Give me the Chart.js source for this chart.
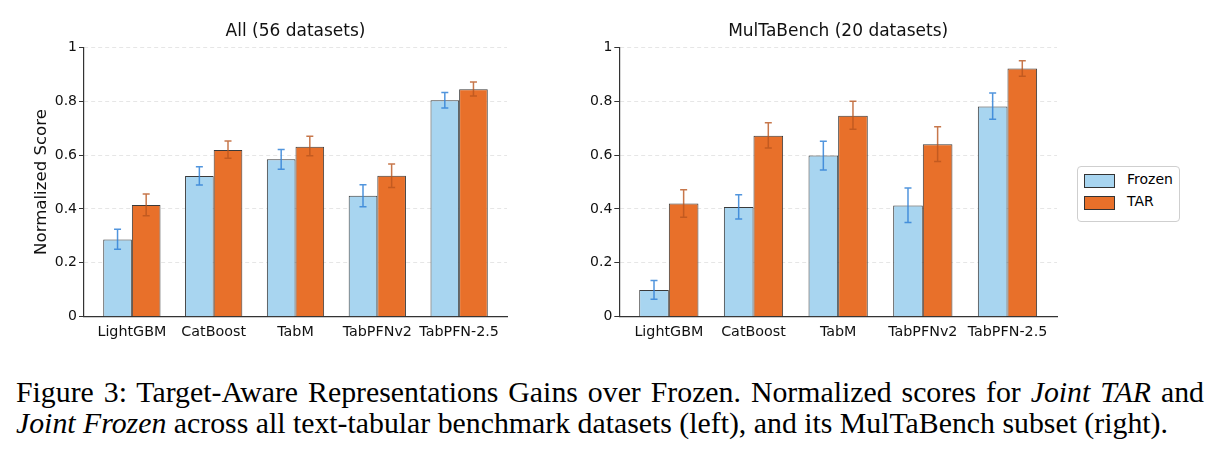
<!DOCTYPE html>
<html>
<head>
<meta charset="utf-8">
<script src="https://cdn.jsdelivr.net/npm/chart.js@4"></script>
<style>
  html, body { margin: 0; padding: 0; background: #fff; }
  body { width: 1220px; height: 457px; position: relative; overflow: hidden; }
  canvas { position: absolute; }
  #legend { position: absolute; left: 1077px; top: 166px; width: 103px; height: 56px; border: 1px solid #cfcfcf; border-radius: 4px; box-sizing: border-box; font-family: "DejaVu Sans", sans-serif; font-size: 14px; color: #000; }
  .lrow { position: absolute; left: 6px; height: 16px; }
  .lpatch { position: absolute; left: 0; top: 1px; width: 29px; height: 12px; border: 1px solid #333; }
  .ltext { position: absolute; left: 43px; top: -2px; white-space: nowrap; }
  .cap { position: absolute; left: 16px; width: 1188px; font-family: "Liberation Serif", "Times New Roman", serif; font-size: 29.8px; line-height: 31px; color: #000; white-space: nowrap; }
  #cap1 { text-align: justify; text-align-last: justify; white-space: normal; }
</style>
</head>
<body>
<canvas id="c1" width="540" height="350" style="left:0;top:0"></canvas>
<canvas id="c2" width="510" height="350" style="left:560px;top:0"></canvas>
<div id="legend">
  <div class="lrow" style="top:6px"><div class="lpatch" style="background:#a8d5f0"></div><div class="ltext">Frozen</div></div>
  <div class="lrow" style="top:28px"><div class="lpatch" style="background:#e8702a"></div><div class="ltext">TAR</div></div>
</div>
<div class="cap" id="cap1" style="top:376px">Figure 3: Target-Aware Representations Gains over Frozen. Normalized scores for <i>Joint TAR</i> and</div>
<div class="cap" id="cap2" style="top:407px"><i>Joint Frozen</i> across all text-tabular benchmark datasets (left), and its MulTaBench subset (right).</div>
<script>
const categories = ['LightGBM', 'CatBoost', 'TabM', 'TabPFNv2', 'TabPFN-2.5'];
const yTicks = [0, 0.2, 0.4, 0.6, 0.8, 1];

const allFrozen   = [0.287, 0.522, 0.584, 0.449, 0.803];
const allFrozenLo = [0.250, 0.489, 0.547, 0.408, 0.775];
const allFrozenHi = [0.325, 0.557, 0.621, 0.490, 0.832];
const allTar      = [0.415, 0.619, 0.631, 0.523, 0.844];
const allTarLo    = [0.375, 0.588, 0.597, 0.480, 0.819];
const allTarHi    = [0.455, 0.652, 0.670, 0.567, 0.871];

const mtbFrozen   = [0.099, 0.407, 0.598, 0.413, 0.780];
const mtbFrozenLo = [0.065, 0.363, 0.545, 0.350, 0.733];
const mtbFrozenHi = [0.134, 0.453, 0.651, 0.478, 0.830];
const mtbTar      = [0.420, 0.672, 0.746, 0.640, 0.921];
const mtbTarLo    = [0.369, 0.626, 0.696, 0.576, 0.893];
const mtbTarHi    = [0.471, 0.720, 0.800, 0.705, 0.950];

const FROZEN_COLOR = '#a8d5f0';
const TAR_COLOR = '#e8702a';
const FONT = '"DejaVu Sans", sans-serif';
const TEXT = '#111';

const errorBarPlugin = {
  id: 'errbars',
  beforeDraw(chart) {
    if (chart.titleBlock) {
      chart.titleBlock.left = chart.chartArea.left;
      chart.titleBlock.right = chart.chartArea.right;
    }
  },
  afterDatasetsDraw(chart) {
    const ctx = chart.ctx;
    const ys = chart.scales.y;
    chart.data.datasets.forEach((ds, i) => {
      const meta = chart.getDatasetMeta(i);
      ctx.save();
      ctx.strokeStyle = ds.errColor;
      ctx.lineWidth = 1.5;
      meta.data.forEach((el, j) => {
        const x = el.x;
        const y1 = ys.getPixelForValue(ds.errLo[j]);
        const y2 = ys.getPixelForValue(ds.errHi[j]);
        ctx.beginPath();
        ctx.moveTo(x, y1); ctx.lineTo(x, y2);
        ctx.moveTo(x - 3.5, y1); ctx.lineTo(x + 3.5, y1);
        ctx.moveTo(x - 3.5, y2); ctx.lineTo(x + 3.5, y2);
        ctx.stroke();
      });
      ctx.restore();
    });
  }
};

function makeChart(id, title, frozen, fLo, fHi, tar, tLo, tHi, yAxisWidth, showYTitle, padRight) {
  const toPts = arr => arr.map((v, i) => ({ x: i, y: v }));
  return new Chart(document.getElementById(id), {
    type: 'bar',
    data: {
      datasets: [
        { label: 'Frozen', data: toPts(frozen), backgroundColor: FROZEN_COLOR, borderColor: '#3a3a3a', borderWidth: 1,
          errLo: fLo, errHi: fHi, errColor: 'rgba(50,130,215,0.85)' },
        { label: 'TAR', data: toPts(tar), backgroundColor: TAR_COLOR, borderColor: '#3a3a3a', borderWidth: 1,
          errLo: tLo, errHi: tHi, errColor: 'rgba(185,85,30,0.8)' }
      ]
    },
    options: {
      responsive: false,
      animation: false,
      devicePixelRatio: 1,
      categoryPercentage: 0.7,
      barPercentage: 1.0,
      layout: { padding: { left: 0, right: padRight, top: 0, bottom: 0 } },
      plugins: {
        legend: { display: false },
        tooltip: { enabled: false },
        title: { display: true, text: title, color: TEXT, font: { family: FONT, size: 17, weight: 'normal' }, padding: { top: 21, bottom: 5.9 } }
      },
      scales: {
        x: {
          type: 'linear',
          offset: false,
          min: -0.585, max: 4.585,
          afterBuildTicks: s => { s.ticks = categories.map((c, i) => ({ value: i })); },
          afterFit: s => { s.height = 33.3; },
          grid: { display: true, offset: false, drawOnChartArea: false, drawTicks: false },
          border: { display: true, color: '#333', width: 1.2 },
          ticks: { autoSkip: false, maxRotation: 0, padding: 7, color: TEXT, font: { family: FONT, size: 14.3 },
                   callback: v => categories[v] }
        },
        y: {
          min: 0, max: 1,
          afterBuildTicks: s => { s.ticks = yTicks.map(v => ({ value: v })); },
          afterFit: s => { s.width = yAxisWidth; },
          grid: { color: '#e6e6e6', lineWidth: 1, drawTicks: true, tickLength: 5, tickColor: '#333', tickWidth: 1, tickBorderDash: [] },
          border: { display: true, color: '#333', width: 1.2, dash: [4, 3] },
          ticks: { padding: 2, color: TEXT, font: { family: FONT, size: 14 }, callback: v => String(+v.toFixed(1)) },
          title: { display: showYTitle, text: 'Normalized Score', color: TEXT, font: { family: FONT, size: 16.6 }, padding: { top: 32, bottom: 0 } }
        }
      }
    },
    plugins: [errorBarPlugin]
  });
}

makeChart('c1', 'All (56 datasets)', allFrozen, allFrozenLo, allFrozenHi, allTar, allTarLo, allTarHi, 84, true, 33);
makeChart('c2', 'MulTaBench (20 datasets)', mtbFrozen, mtbFrozenLo, mtbFrozenHi, mtbTar, mtbTarLo, mtbTarHi, 59.3, false, 13);
</script>
</body>
</html>
